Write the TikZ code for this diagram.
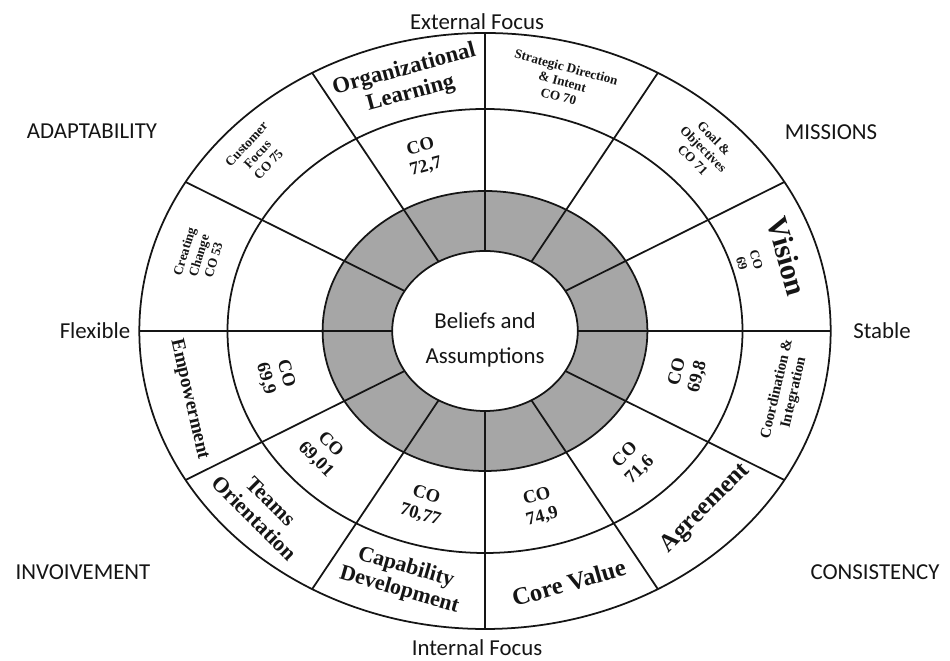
\documentclass[tikz,border=0pt]{standalone}
\usepackage{fontspec}
\setmainfont{Liberation Serif}
\newfontfamily\calib{Carlito}
\usetikzlibrary{positioning}
\definecolor{Ink}{HTML}{151515}
\definecolor{Ring}{HTML}{A6A6A6}
\tikzset{
  rim/.style={draw=Ink,line width=1pt},
  spoke/.style={draw=Ink,line width=1pt},
  axis/.style={font=\calib\fontsize{13}{15}\selectfont,text=Ink,inner sep=1pt},
  core/.style={font=\calib\fontsize{13}{20}\selectfont,text=Ink,align=center,inner sep=1pt},
  cell/.style={font=\bfseries\fontsize{13}{14}\selectfont,align=center,inner sep=0pt,text=Ink},
  tiny/.style={font=\bfseries\fontsize{7.5}{8.6}\selectfont,align=center,inner sep=0pt,text=Ink},
  co/.style={font=\bfseries\fontsize{10.5}{11.8}\selectfont,align=center,inner sep=0pt,text=Ink}
}
\begin{document}
\begin{tikzpicture}[x=0.02cm,y=0.02cm]
\useasboundingbox (0,0) rectangle (950,661);
\begin{scope}[shift={(485,330)},xscale=1.16]
  \fill[Ring,even odd rule] (0,0) circle (140) (0,0) circle (80);
  \draw[rim] (0,0) circle (298);
  \draw[rim] (0,0) circle (222);
  \draw[rim] (0,0) circle (140);
  \draw[rim] (0,0) circle (80);
  \foreach \a in {0,30,...,330}
    \draw[spoke] (\a:80) -- (\a:298);
  % outer ring: dimensions
  \node[cell,rotate=15] (orgl) at (105:258) {Organizational\\Learning};
  \node[tiny,rotate=-15] (strat) at (75:258) {Strategic Direction\\\& Intent\\CO 70};
  \node[tiny,rotate=-45] (goal) at (44:262) {Goal \&\\Objectives\\CO 71};
  \node[cell,font=\bfseries\fontsize{17}{17}\selectfont,rotate=-74] (vis) at (16:271) {Vision};
  \node[tiny,rotate=-74] (visco) at (17:238) {CO\\69};
  \node[tiny,font=\bfseries\fontsize{8.5}{9.8}\selectfont,rotate=77] (coord) at (347:266) {Coordination \&\\Integration};
  \node[cell,font=\bfseries\fontsize{14}{14}\selectfont,rotate=45] (agr) at (317:260) {Agreement};
  \node[cell,font=\bfseries\fontsize{14}{14}\selectfont,rotate=16] (corev) at (286:262) {Core Value};
  \node[cell,font=\bfseries\fontsize{12.5}{13.5}\selectfont,rotate=-16] (capd) at (254:258) {Capability\\Development};
  \node[cell,font=\bfseries\fontsize{12.5}{13.5}\selectfont,rotate=-45] (teams) at (223:262) {Teams\\Orientation};
  \node[cell,font=\bfseries\fontsize{11}{11}\selectfont,rotate=-77] (empw) at (195:264) {Empowerment};
  \node[tiny,rotate=73] (crchg) at (163:258) {Creating\\Change\\CO 53};
  \node[tiny,rotate=47] (cust) at (138:264) {Customer\\Focus\\CO 75};
  % middle ring: scores
  \node[co,rotate=15] (coOL) at (107:182) {CO\\72,7};
  \node[co,rotate=-75] (coEM) at (194:186) {CO\\69,9};
  \node[co,rotate=-45] (coTO) at (221:185) {CO\\69,01};
  \node[co,rotate=-17] (coCD) at (253:182) {CO\\70,77};
  \node[co,rotate=15] (coCV) at (285:182) {CO\\74,9};
  \node[co,rotate=45] (coAG) at (314:183) {CO\\71,6};
  \node[co,rotate=76] (coCI) at (346:180) {CO\\69,8};
\end{scope}
\node[core] (belief) at (485,321) {Beliefs and\\Assumptions};
\node[axis] (ext) at (477,639) {External Focus};
\node[axis] (int) at (477,13) {Internal Focus};
\node[axis] (adapt) at (92,530) {ADAPTABILITY};
\node[axis] (miss) at (831,529) {MISSIONS};
\node[axis] (flex) at (95,330) {Flexible};
\node[axis] (stab) at (882,330) {Stable};
\node[axis] (invo) at (83,89) {INVOIVEMENT};
\node[axis] (cons) at (875,89) {CONSISTENCY};
\end{tikzpicture}
\end{document}
